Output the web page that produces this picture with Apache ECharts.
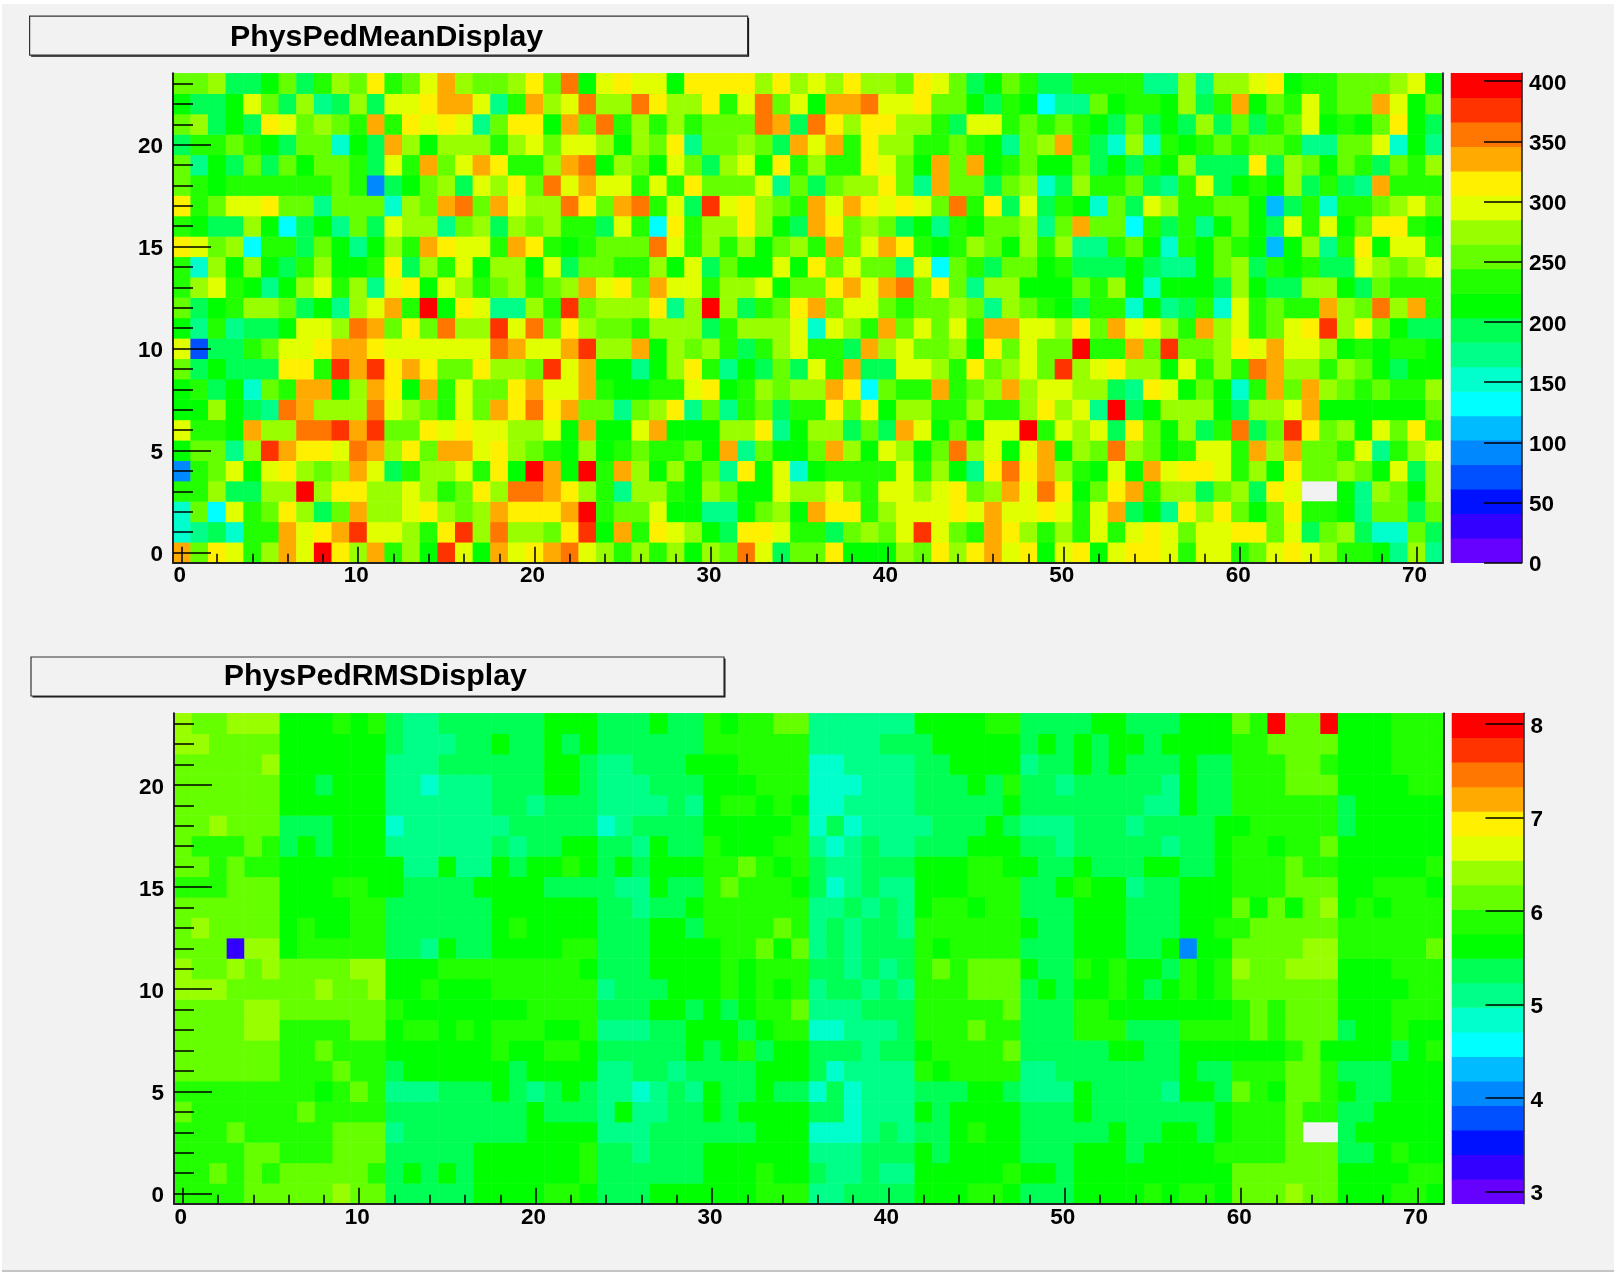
<!DOCTYPE html>
<html>
<head>
<meta charset="utf-8">
<style>
html,body{margin:0;padding:0;background:#fff;width:1617px;height:1272px;overflow:hidden}
#panel{position:absolute;left:2px;top:4px;width:1612px;height:1266px;background:#f2f2f2;border-bottom:2px solid #c4c4c4}
#chart{position:absolute;left:0;top:0;width:1617px;height:1272px}
</style>
<script src="https://cdn.jsdelivr.net/npm/echarts@6/dist/echarts.min.js"></script>
</head>
<body>
<div id="panel"></div>
<div id="chart"></div>
<script>
const titles = ['PhysPedMeanDisplay', 'PhysPedRMSDisplay'];
const xCategories = Array.from({length: 72}, (_, i) => String(i));
const yCategories = Array.from({length: 24}, (_, i) => String(i));
const palette = ['#6600ff','#3300ff','#0011ff','#0050ff','#0088ff','#00bbff','#00ffff','#00ffcc','#00ff88','#00ff55','#00ff00','#22ff00','#66ff00','#99ff00','#e2ff00','#fff000','#ffaa00','#ff7700','#ff3300','#ff0000'];
const meanBandValues = [10,30,51,71,92,112,132,152,173,193,213,234,254,274,295,315,335,356,376,396];
const rmsBandValues = [3.0,3.26,3.52,3.79,4.05,4.31,4.57,4.83,5.09,5.36,5.62,5.88,6.14,6.4,6.67,6.93,7.19,7.46,7.72,7.98];
const meanTicks = [0,50,100,150,200,250,300,350,400];
const rmsTicks = [3,4,5,6,7,8];

const mean23 = [254,254,274,193,193,213,254,193,234,274,254,315,234,254,295,335,274,254,254,274,315,254,356,213,295,315,295,295,213,315,315,315,315,274,315,274,295,274,315,274,274,254,315,295,254,193,213,254,234,193,193,234,234,234,234,173,173,274,173,274,274,295,315,213,234,234,254,254,254,274,295,213];
const mean22 = [213,193,193,213,295,254,193,274,173,193,274,193,295,295,315,335,335,295,173,234,335,274,295,356,274,274,356,315,274,274,315,234,295,356,254,295,213,335,335,356,295,295,315,254,254,213,193,234,213,132,173,173,254,213,234,234,213,274,193,234,335,213,254,234,295,234,254,254,335,295,213,254];
const mean21 = [254,274,193,213,193,315,295,254,274,254,234,335,234,315,295,315,295,173,254,315,315,213,335,254,356,234,274,234,274,234,254,254,254,356,335,193,356,315,274,315,315,274,274,234,193,295,295,234,254,234,254,234,213,193,254,193,213,193,274,193,254,193,234,254,295,213,234,213,254,315,213,193];
const mean20 = [193,234,234,254,234,213,193,254,254,152,213,193,335,274,213,274,274,274,234,274,295,254,295,295,274,213,274,254,315,173,254,254,274,254,193,335,295,335,234,315,274,274,234,234,254,234,213,173,254,274,335,234,193,152,274,152,234,213,234,254,234,254,254,234,173,173,254,254,295,152,213,173];
const mean19 = [254,173,213,193,254,193,254,213,254,254,234,193,295,234,335,254,295,335,315,234,234,274,335,356,213,274,254,213,295,254,193,274,295,213,315,234,274,234,234,315,295,254,213,335,254,335,213,234,254,213,213,254,193,213,193,234,213,274,193,193,193,315,193,274,254,213,254,234,193,254,234,274];
const mean18 = [254,234,213,234,234,234,234,234,234,254,234,92,193,213,254,274,193,295,274,315,254,356,295,335,295,295,234,295,234,315,254,254,254,295,173,254,193,254,274,274,315,254,173,335,254,254,193,254,274,152,193,274,234,234,254,193,173,234,295,193,213,234,213,274,193,234,193,173,335,234,234,234];
const mean17 = [315,234,254,295,295,315,254,254,173,254,254,254,152,274,254,335,356,254,335,295,274,274,356,315,254,335,356,234,295,193,376,295,315,274,254,234,335,295,335,315,295,315,295,254,356,234,315,193,295,193,234,213,152,254,193,295,274,234,234,254,254,213,112,193,234,152,234,234,254,274,295,254];
const mean16 = [234,213,193,193,274,213,132,193,213,173,254,193,295,274,274,173,254,274,193,274,254,274,234,234,193,295,234,132,315,234,274,274,315,274,213,193,335,315,254,274,254,193,213,173,234,213,254,254,274,173,254,335,254,254,132,234,193,234,173,213,254,213,193,295,234,295,213,254,315,315,234,213];
const mean15 = [315,295,254,274,132,234,234,193,254,213,173,213,274,234,335,315,295,295,234,335,315,234,213,234,254,254,254,356,295,234,274,234,274,213,254,274,234,335,254,295,335,315,234,213,234,274,254,213,274,234,274,173,173,234,254,213,152,234,213,254,234,213,112,213,274,173,234,315,213,295,295,234];
const mean14 = [234,152,274,213,274,213,193,234,274,213,213,234,315,193,274,234,295,213,274,274,213,295,193,254,254,234,234,274,213,295,193,254,213,213,295,213,315,254,295,254,254,173,295,132,254,234,193,254,254,213,234,193,193,193,213,193,173,173,213,254,274,193,234,213,234,193,193,295,274,254,274,295];
const mean13 = [234,274,295,234,213,173,213,274,295,234,274,173,295,315,213,295,274,234,254,274,234,254,274,335,295,315,254,335,295,295,234,274,274,295,213,254,254,315,335,295,335,356,254,315,254,173,274,274,213,213,213,254,234,274,213,152,213,213,213,193,274,213,193,193,274,274,213,193,254,234,234,234];
const mean12 = [254,193,213,234,274,274,254,193,213,173,274,295,335,234,396,213,315,295,173,173,274,234,376,254,274,274,274,315,173,274,396,274,193,234,254,315,335,254,295,295,254,234,254,254,274,254,173,274,254,234,213,193,234,234,152,213,173,193,234,152,295,234,254,234,234,335,274,254,356,274,335,234];
const mean11 = [213,173,234,173,193,193,213,295,295,274,356,335,254,315,254,356,274,274,376,295,356,254,315,274,254,254,234,274,274,274,193,234,274,274,274,295,152,295,274,234,335,254,295,254,295,234,335,335,295,295,274,315,254,335,295,315,274,234,335,274,295,234,254,295,315,376,274,315,254,213,193,193];
const mean10 = [295,71,193,193,234,254,295,295,315,335,335,315,295,295,295,295,295,295,356,335,295,295,335,376,274,274,335,213,274,254,274,234,193,234,274,295,234,234,193,335,274,295,254,254,274,213,315,254,295,254,254,396,234,234,335,254,376,254,254,274,315,295,335,295,295,274,213,234,213,234,234,213];
const mean9 = [254,193,213,193,193,193,315,315,234,376,335,376,315,335,315,254,254,315,274,274,254,376,295,335,213,213,173,213,274,315,234,173,213,193,254,193,295,234,335,193,193,295,295,274,234,315,254,274,295,254,376,274,295,315,274,274,213,295,234,274,234,356,335,274,274,234,274,254,213,193,213,213];
const mean8 = [213,234,193,213,152,254,234,335,335,213,274,335,315,213,335,234,295,254,254,315,335,295,295,335,234,213,213,234,234,295,315,213,234,274,254,274,274,335,315,132,254,234,234,335,234,254,274,335,274,295,295,274,274,193,173,315,295,213,254,213,152,234,335,254,335,274,254,234,254,234,234,274];
const mean7 = [213,213,274,213,193,173,356,335,274,274,274,356,295,274,254,234,295,254,335,315,356,315,335,254,254,173,254,274,315,173,254,173,234,254,193,234,234,315,254,315,213,274,274,234,234,274,234,234,274,315,274,295,173,396,193,213,274,274,274,213,193,274,274,295,335,213,213,213,213,213,213,254];
const mean6 = [295,234,234,213,335,274,274,356,356,376,335,376,254,254,315,295,315,295,295,274,274,295,213,335,213,213,295,335,213,213,213,274,274,315,173,213,274,274,193,254,193,335,295,213,254,213,295,295,396,234,295,274,295,193,315,254,213,274,193,234,356,193,254,376,315,254,274,213,295,254,315,234];
const mean5 = [213,254,254,173,274,376,335,315,315,295,356,335,274,315,254,335,335,295,315,274,254,234,213,274,213,234,254,234,234,254,213,335,173,254,213,213,254,335,274,213,295,274,213,254,356,274,295,213,295,335,213,274,254,356,274,254,213,234,295,295,234,335,274,335,254,254,234,295,173,234,274,295];
const mean4 = [92,234,254,295,213,295,315,274,254,274,335,295,193,234,274,274,295,234,315,213,396,335,213,396,234,335,274,213,274,213,254,173,315,213,295,152,213,234,234,234,234,295,234,274,213,173,315,356,315,335,274,234,213,295,213,335,295,315,315,295,234,274,213,315,254,254,274,254,213,295,193,274];
const mean3 = [234,234,274,193,193,274,274,396,274,315,315,274,274,295,274,234,254,315,274,356,356,335,315,274,234,173,274,274,234,213,274,254,213,213,295,274,274,295,254,234,295,295,274,295,315,254,274,335,295,356,315,213,254,315,335,234,274,274,193,254,274,193,315,295,null,null,213,173,274,254,213,274];
const mean2 = [152,254,132,295,234,254,315,274,193,254,335,274,274,295,315,274,254,274,335,315,315,315,335,396,234,254,254,295,213,213,173,173,213,254,274,213,335,315,315,234,274,295,295,295,315,295,335,295,295,315,295,234,295,335,193,213,173,315,274,315,254,213,254,315,234,234,213,173,254,254,193,254];
const mean1 = [152,173,193,152,234,234,335,295,315,335,376,295,295,274,234,315,376,274,356,274,274,254,315,376,213,335,234,315,295,274,213,193,315,315,295,234,234,193,254,274,254,295,376,295,254,234,335,315,274,234,274,234,295,234,295,315,295,254,295,295,315,315,254,295,193,254,274,193,152,152,254,193];
const mean0 = [335,254,315,295,234,274,335,295,396,315,274,335,234,274,213,376,295,213,335,295,315,335,356,295,274,234,274,234,274,213,274,254,356,295,193,254,254,315,213,213,213,274,254,315,274,315,335,295,315,213,295,315,213,295,315,315,295,234,295,295,234,254,295,315,295,274,234,234,213,173,274,173];

const rms23 = [6.4,6.14,6.14,6.4,6.4,6.4,5.62,5.62,5.62,5.88,5.62,5.88,5.36,5.09,5.09,5.36,5.36,5.36,5.36,5.36,5.36,5.62,5.62,5.62,5.36,5.36,5.36,5.62,5.36,5.36,5.88,5.62,5.88,5.88,6.14,6.14,5.09,5.09,5.09,5.09,5.09,5.09,5.62,5.62,5.62,5.62,5.88,5.88,5.36,5.36,5.36,5.36,5.62,5.62,5.36,5.36,5.36,5.62,5.62,5.62,6.14,5.88,7.98,6.14,6.14,7.98,5.62,5.62,5.62,5.88,5.88,5.88];
const rms22 = [6.4,6.4,6.14,6.14,6.14,6.14,5.62,5.62,5.62,5.62,5.62,5.62,5.36,5.09,5.09,5.09,5.36,5.36,5.62,5.36,5.36,5.62,5.36,5.62,5.36,5.36,5.36,5.36,5.36,5.36,5.88,5.88,5.88,5.88,5.88,5.88,5.09,5.09,5.09,5.09,5.36,5.36,5.36,5.62,5.62,5.62,5.62,5.62,5.36,5.62,5.36,5.62,5.36,5.62,5.62,5.36,5.62,5.62,5.62,5.62,5.88,5.88,6.14,6.14,6.14,6.14,5.62,5.62,5.62,5.88,5.88,5.88];
const rms21 = [6.14,6.14,6.14,6.14,6.14,6.4,5.62,5.62,5.62,5.62,5.62,5.62,5.09,5.09,5.09,5.36,5.36,5.36,5.36,5.36,5.36,5.62,5.62,5.36,5.09,5.09,5.36,5.36,5.36,5.62,5.62,5.62,5.88,5.88,5.88,5.88,4.83,4.83,5.09,5.09,5.09,5.09,5.36,5.36,5.62,5.62,5.62,5.62,5.09,5.36,5.36,5.62,5.36,5.62,5.36,5.36,5.36,5.62,5.36,5.36,5.88,5.88,5.88,6.14,6.14,5.88,5.62,5.62,5.62,5.88,5.88,5.88];
const rms20 = [6.14,6.14,6.14,6.14,6.14,6.14,5.62,5.62,5.36,5.62,5.62,5.62,5.09,5.09,4.83,5.09,5.09,5.09,5.36,5.36,5.36,5.62,5.62,5.36,5.09,5.09,5.09,5.36,5.36,5.36,5.62,5.62,5.62,5.88,5.88,5.88,4.83,4.83,4.83,5.09,5.09,5.09,5.36,5.36,5.36,5.62,5.36,5.88,5.36,5.36,5.09,5.36,5.36,5.36,5.36,5.36,5.09,5.62,5.36,5.36,5.88,5.88,5.88,6.14,6.14,6.14,5.62,5.62,5.62,5.62,5.88,5.88];
const rms19 = [6.14,6.14,6.14,6.14,6.14,6.14,5.62,5.62,5.62,5.62,5.62,5.62,5.09,5.09,5.09,5.09,5.09,5.09,5.36,5.36,5.09,5.36,5.36,5.36,5.09,5.09,5.09,5.09,5.36,5.09,5.62,5.88,5.88,5.62,5.88,5.62,4.83,4.83,5.09,5.09,5.09,5.09,5.36,5.36,5.36,5.36,5.36,5.62,5.36,5.36,5.36,5.36,5.36,5.36,5.36,5.09,5.09,5.62,5.36,5.36,5.88,5.88,5.88,5.88,5.88,5.88,5.36,5.62,5.62,5.62,5.62,5.62];
const rms18 = [6.14,6.14,6.4,6.14,6.14,6.14,5.36,5.36,5.36,5.62,5.62,5.62,4.83,5.09,5.09,5.09,5.09,5.09,5.09,5.36,5.36,5.36,5.36,5.36,4.83,5.09,5.36,5.36,5.36,5.36,5.62,5.62,5.62,5.62,5.62,5.88,4.83,5.36,4.83,5.09,5.09,5.09,5.09,5.36,5.36,5.36,5.62,5.36,5.09,5.09,5.09,5.36,5.36,5.36,5.09,5.36,5.36,5.36,5.36,5.62,5.62,5.88,5.88,5.88,5.88,5.88,5.36,5.62,5.62,5.62,5.62,5.62];
const rms17 = [6.14,5.88,5.88,5.88,6.14,5.88,5.36,5.62,5.36,5.62,5.62,5.62,5.09,5.09,5.09,5.09,5.09,5.09,5.36,5.09,5.36,5.36,5.62,5.62,5.36,5.36,5.09,5.62,5.36,5.36,5.88,5.62,5.62,5.62,5.88,5.88,5.09,4.83,5.09,5.36,5.09,5.09,5.36,5.36,5.36,5.62,5.62,5.62,5.36,5.36,5.09,5.36,5.36,5.36,5.36,5.36,5.09,5.36,5.36,5.62,5.88,5.88,5.62,5.88,5.88,6.14,5.62,5.62,5.62,5.62,5.62,5.62];
const rms16 = [6.14,6.14,5.88,6.14,5.88,5.88,5.62,5.62,5.62,5.62,5.62,5.62,5.62,5.09,5.09,5.62,5.09,5.09,5.62,5.36,5.62,5.62,5.88,5.62,5.36,5.62,5.36,5.62,5.62,5.62,5.88,5.88,6.14,5.88,5.62,5.88,5.36,5.09,5.09,5.36,5.36,5.36,5.62,5.62,5.62,5.88,5.88,5.62,5.62,5.36,5.36,5.62,5.36,5.36,5.36,5.62,5.62,5.36,5.36,5.62,5.88,5.88,5.88,6.14,5.88,5.88,5.62,5.62,5.62,5.62,5.62,5.88];
const rms15 = [5.88,5.88,5.88,6.14,6.14,6.14,5.62,5.62,5.62,5.88,5.88,5.62,5.62,5.36,5.36,5.36,5.36,5.62,5.62,5.62,5.62,5.36,5.36,5.36,5.36,5.09,5.09,5.62,5.36,5.36,5.88,6.14,5.88,5.88,5.88,5.62,5.36,4.83,5.09,5.36,5.09,5.09,5.62,5.62,5.62,5.88,5.88,5.88,5.36,5.36,5.62,5.88,5.62,5.62,5.09,5.36,5.36,5.62,5.62,5.62,5.88,5.88,5.88,6.14,6.14,6.14,5.62,5.62,5.88,5.88,5.88,5.62];
const rms14 = [6.14,6.14,6.14,6.14,6.14,6.14,5.62,5.62,5.62,5.62,5.88,5.88,5.36,5.36,5.36,5.36,5.36,5.36,5.62,5.62,5.62,5.62,5.62,5.62,5.36,5.36,5.09,5.36,5.36,5.62,5.88,5.88,5.88,5.88,5.88,5.88,5.09,5.09,5.36,5.09,5.36,5.09,5.62,5.88,5.88,5.62,5.88,5.88,5.36,5.36,5.36,5.62,5.62,5.62,5.36,5.36,5.36,5.62,5.62,5.62,6.14,5.62,6.14,5.62,6.14,6.4,5.62,5.88,5.62,5.88,5.88,5.88];
const rms13 = [6.14,6.4,6.14,6.14,6.14,6.14,5.62,5.88,5.62,5.62,5.88,5.88,5.36,5.36,5.36,5.36,5.36,5.36,5.62,5.88,5.62,5.62,5.62,5.62,5.36,5.36,5.36,5.62,5.62,5.36,5.88,5.88,5.88,5.88,6.14,5.88,5.09,5.36,5.09,5.36,5.36,5.09,5.88,5.88,5.88,5.88,5.88,5.88,5.62,5.36,5.36,5.62,5.62,5.62,5.36,5.36,5.36,5.62,5.62,5.88,5.88,6.14,6.14,6.14,6.14,6.14,5.88,5.88,5.88,5.88,5.88,5.88];
const rms12 = [6.14,6.14,6.14,3.26,6.4,6.4,5.62,5.88,5.88,5.88,5.88,5.88,5.36,5.36,5.09,5.62,5.36,5.36,5.62,5.62,5.62,5.62,5.88,5.88,5.36,5.36,5.36,5.62,5.62,5.62,5.62,5.88,5.88,6.14,5.62,6.14,5.09,5.36,5.09,5.36,5.36,5.36,5.88,5.62,5.88,5.88,5.88,5.88,5.36,5.36,5.36,5.62,5.62,5.62,5.36,5.36,5.62,4.05,5.62,5.62,6.14,6.14,6.14,6.14,6.4,6.4,5.88,5.88,5.88,5.88,5.88,6.14];
const rms11 = [6.4,6.14,6.14,6.4,6.14,6.4,6.14,6.14,6.14,6.14,6.4,6.4,5.62,5.62,5.62,5.88,5.88,5.88,5.88,5.88,5.88,5.88,5.88,5.62,5.36,5.36,5.36,5.62,5.62,5.62,5.62,5.88,5.62,5.88,5.88,5.88,5.36,5.36,5.09,5.36,5.09,5.36,5.88,6.14,5.88,6.14,6.14,6.14,5.62,5.36,5.36,5.88,5.62,5.88,5.62,5.62,5.36,5.88,5.62,5.88,6.4,6.14,6.14,6.4,6.4,6.4,5.62,5.62,5.62,5.88,5.88,5.88];
const rms10 = [6.4,6.4,6.4,6.14,6.14,6.14,6.14,6.14,6.4,6.14,6.14,6.4,5.62,5.62,5.88,5.62,5.62,5.62,5.88,5.88,5.88,5.88,5.88,5.88,5.09,5.36,5.36,5.36,5.62,5.62,5.62,5.88,5.62,5.88,5.62,5.88,5.09,5.36,5.36,5.09,5.36,5.09,5.88,5.88,5.88,6.14,6.14,6.14,5.36,5.62,5.36,5.62,5.62,5.88,5.62,5.36,5.62,5.88,5.62,5.88,6.14,6.14,6.14,6.14,6.14,6.14,5.62,5.62,5.62,5.62,5.88,5.88];
const rms9 = [6.14,6.14,6.14,6.14,6.4,6.4,6.14,6.14,6.14,6.14,6.14,6.14,5.88,5.62,5.62,5.62,5.62,5.62,5.62,5.62,5.88,5.88,5.88,5.88,5.36,5.36,5.36,5.62,5.62,5.36,5.62,5.36,5.62,5.88,5.88,6.14,5.09,5.09,5.09,5.36,5.36,5.36,5.88,5.88,5.88,5.88,5.88,6.14,5.36,5.36,5.36,5.88,5.88,5.62,5.62,5.62,5.62,5.62,5.62,5.62,5.88,6.14,5.88,6.14,6.14,6.14,5.62,5.62,5.62,5.88,5.88,5.88];
const rms8 = [6.14,6.14,6.14,6.14,6.4,6.4,5.88,5.88,5.88,5.88,6.14,6.14,5.62,5.88,5.88,5.62,5.88,5.62,5.88,5.88,5.88,5.62,5.62,5.88,5.09,5.09,5.09,5.36,5.36,5.62,5.62,5.62,5.36,5.62,5.88,5.88,4.83,4.83,5.09,5.09,5.09,5.36,5.88,5.88,5.88,6.14,5.88,5.88,5.36,5.36,5.36,5.88,5.88,5.88,5.36,5.36,5.36,5.88,5.88,5.88,5.88,6.14,5.88,6.14,6.14,6.14,5.36,5.62,5.62,5.88,5.62,5.62];
const rms7 = [6.14,6.14,6.14,6.14,6.14,6.14,5.88,5.88,6.14,5.88,5.88,5.88,5.62,5.62,5.62,5.62,5.62,5.62,5.88,5.62,5.62,5.88,5.88,5.62,5.36,5.36,5.36,5.36,5.36,5.62,5.36,5.62,5.88,5.36,5.62,5.62,5.36,5.36,5.36,5.09,5.36,5.36,5.62,5.88,5.88,5.88,5.88,6.14,5.36,5.36,5.36,5.36,5.36,5.62,5.62,5.36,5.36,5.62,5.62,5.62,5.62,5.62,5.62,5.88,6.14,5.62,5.62,5.62,5.62,5.36,5.62,5.88];
const rms6 = [6.14,6.14,6.14,6.14,6.14,6.14,5.88,5.88,5.88,6.14,5.88,5.88,5.36,5.62,5.62,5.62,5.62,5.62,5.62,5.36,5.62,5.62,5.62,5.62,5.09,5.09,5.36,5.36,5.09,5.36,5.36,5.36,5.36,5.62,5.62,5.62,5.36,4.83,5.09,5.09,5.09,5.09,5.88,5.62,5.88,5.88,5.88,5.88,5.09,5.09,5.36,5.36,5.36,5.36,5.36,5.36,5.36,5.62,5.36,5.36,5.88,5.88,5.88,6.14,6.14,5.88,5.36,5.36,5.36,5.62,5.62,5.62];
const rms5 = [5.88,5.88,5.88,5.88,5.88,5.88,5.88,5.88,5.62,5.88,6.14,5.88,5.09,5.09,5.09,5.36,5.36,5.36,5.62,5.36,5.09,5.36,5.62,5.36,5.09,5.09,4.83,5.09,5.36,5.09,5.62,5.36,5.36,5.62,5.36,5.36,4.83,5.36,4.83,5.09,5.09,5.09,5.36,5.36,5.36,5.62,5.62,5.36,5.09,5.09,5.09,5.62,5.36,5.36,5.36,5.36,5.09,5.62,5.62,5.36,6.14,5.88,5.62,6.14,6.14,5.88,5.62,5.36,5.36,5.62,5.62,5.62];
const rms4 = [6.14,5.88,5.88,5.88,5.88,5.88,5.88,6.14,5.88,5.88,5.88,5.88,5.36,5.36,5.36,5.36,5.36,5.36,5.36,5.36,5.62,5.36,5.36,5.36,5.09,5.62,5.09,5.09,5.36,5.36,5.62,5.36,5.62,5.62,5.62,5.62,5.36,5.36,4.83,5.09,5.09,5.09,5.62,5.36,5.62,5.62,5.62,5.62,5.36,5.36,5.36,5.62,5.36,5.36,5.36,5.36,5.36,5.36,5.36,5.62,5.88,5.88,5.88,6.14,5.88,5.88,5.36,5.36,5.62,5.62,5.62,5.62];
const rms3 = [5.88,5.88,5.88,6.14,5.88,5.88,5.88,5.88,5.88,6.14,6.14,6.14,5.09,5.36,5.36,5.36,5.36,5.36,5.36,5.36,5.62,5.62,5.62,5.62,5.09,5.09,5.09,5.36,5.36,5.36,5.36,5.36,5.36,5.62,5.62,5.62,4.83,4.83,4.83,5.09,5.36,5.09,5.36,5.36,5.62,5.88,5.62,5.62,5.36,5.36,5.36,5.36,5.36,5.62,5.36,5.36,5.62,5.62,5.36,5.62,5.88,5.88,5.88,6.14,null,null,5.36,5.62,5.62,5.62,5.62,5.62];
const rms2 = [5.88,5.88,5.88,5.88,6.14,6.14,5.88,5.88,5.88,6.14,6.14,6.14,5.36,5.36,5.36,5.36,5.36,5.62,5.62,5.62,5.62,5.62,5.62,5.88,5.36,5.36,5.09,5.36,5.36,5.36,5.62,5.62,5.62,5.62,5.62,5.62,5.09,5.09,5.09,5.36,5.36,5.36,5.62,5.36,5.62,5.62,5.62,5.62,5.36,5.36,5.36,5.62,5.62,5.62,5.36,5.62,5.62,5.62,5.62,5.88,5.88,5.88,5.88,6.14,6.14,6.14,5.36,5.36,5.62,5.88,5.62,5.62];
const rms1 = [5.88,5.88,6.14,5.88,6.14,5.88,6.14,6.14,6.14,6.14,6.14,5.88,5.36,5.62,5.36,5.62,5.36,5.62,5.62,5.62,5.62,5.62,5.62,5.88,5.36,5.36,5.36,5.36,5.36,5.36,5.62,5.62,5.62,5.88,5.62,5.62,5.36,5.09,5.09,5.36,5.09,5.09,5.62,5.62,5.62,5.62,5.62,5.88,5.62,5.62,5.36,5.62,5.62,5.62,5.62,5.62,5.62,5.62,5.62,5.62,6.14,6.14,6.14,6.14,6.14,6.14,5.62,5.62,5.62,5.62,5.88,5.88];
const rms0 = [5.88,5.88,5.88,5.88,6.14,6.14,6.14,6.14,6.14,6.4,6.14,6.14,5.36,5.36,5.36,5.36,5.36,5.62,5.62,5.62,5.62,5.88,5.88,5.62,5.36,5.36,5.36,5.62,5.62,5.62,5.62,5.62,5.62,5.88,5.88,5.88,5.09,5.09,5.36,5.36,5.36,5.36,5.62,5.62,5.62,5.88,5.88,5.62,5.36,5.36,5.36,5.62,5.62,5.62,5.62,5.88,5.62,5.88,5.88,5.62,6.14,6.14,6.14,6.4,6.14,6.14,5.62,5.62,5.62,5.88,5.88,5.62];

const meanRows = [mean0,mean1,mean2,mean3,mean4,mean5,mean6,mean7,mean8,mean9,mean10,mean11,mean12,mean13,mean14,mean15,mean16,mean17,mean18,mean19,mean20,mean21,mean22,mean23];
const rmsRows = [rms0,rms1,rms2,rms3,rms4,rms5,rms6,rms7,rms8,rms9,rms10,rms11,rms12,rms13,rms14,rms15,rms16,rms17,rms18,rms19,rms20,rms21,rms22,rms23];

const FONT = '"Liberation Sans", Arial, sans-serif';
const INK = '#000';
const LABEL_SIZE = 22.5;
const shifted = {t: {color: INK, fontFamily: FONT, fontWeight: 'bold', fontSize: LABEL_SIZE, padding: [5, 0, 0, 0]}};

function cells(rows) {
  const out = [];
  rows.forEach((row, y) => row.forEach((v, x) => { if (v !== null) out.push([x, y, v]); }));
  return out;
}
function pieces(lo, step) {
  return palette.map((color, i) => ({min: lo + i * step, max: lo + (i + 1) * step, color}));
}
function xMain(grid) {
  return {type: 'category', gridIndex: grid, data: xCategories, position: 'bottom', z: 10,
    axisLine: {show: true, lineStyle: {color: '#222', width: 2}},
    axisTick: {show: true, inside: true, alignWithLabel: true, length: 9, interval: i => i % 2 === 0, lineStyle: {color: INK, width: 1.5}},
    axisLabel: {show: true, interval: i => i % 10 === 0, margin: 2, color: INK, fontFamily: FONT, fontWeight: 'bold', fontSize: LABEL_SIZE, padding: [0, 4, 0, 0]},
    splitLine: {show: false}};
}
function xMajor(grid) {
  return {type: 'category', gridIndex: grid, data: xCategories, position: 'bottom', z: 10,
    axisLine: {show: false},
    axisTick: {show: true, inside: true, alignWithLabel: true, length: 16, interval: i => i % 10 === 0, lineStyle: {color: INK, width: 1.5}},
    axisLabel: {show: false}, splitLine: {show: false}};
}
function yMain(grid) {
  return {type: 'category', gridIndex: grid, data: yCategories, position: 'left', z: 10,
    axisLine: {show: true, lineStyle: {color: '#222', width: 2}},
    axisTick: {show: true, inside: true, alignWithLabel: true, length: 20, interval: 0, lineStyle: {color: INK, width: 1.5}},
    axisLabel: {show: true, interval: i => i % 5 === 0, margin: 10, formatter: '{t|{value}}', rich: shifted},
    splitLine: {show: false}};
}
function yMajor(grid) {
  return {type: 'category', gridIndex: grid, data: yCategories, position: 'left', z: 10,
    axisLine: {show: false},
    axisTick: {show: true, inside: true, alignWithLabel: true, length: 38, interval: i => i % 5 === 0, lineStyle: {color: INK, width: 1.5}},
    axisLabel: {show: false}, splitLine: {show: false}};
}
function yRight(grid) {
  return {type: 'category', gridIndex: grid, data: yCategories, position: 'right', z: 10,
    axisLine: {show: true, lineStyle: {color: '#333', width: 2}},
    axisTick: {show: false}, axisLabel: {show: false}, splitLine: {show: false}};
}
function xBar(grid) {
  return {type: 'category', gridIndex: grid, data: ['scale'], position: 'bottom', z: 10,
    axisLine: {show: false}, axisTick: {show: false}, axisLabel: {show: false}, splitLine: {show: false}};
}
function yBarBands(grid, bands) {
  return {type: 'category', gridIndex: grid, data: bands.map(String), position: 'left', z: 10,
    axisLine: {show: false}, axisTick: {show: false}, axisLabel: {show: false}, splitLine: {show: false}};
}
function yBarScale(grid, lo, hi, ticks) {
  return {type: 'value', gridIndex: grid, min: lo, max: hi, position: 'right', z: 10,
    axisLine: {show: true, onZero: false, lineStyle: {color: '#222', width: 1.5}},
    axisTick: {show: true, inside: true, length: 38, customValues: ticks, lineStyle: {color: INK, width: 1.5}},
    axisLabel: {show: true, customValues: ticks, margin: 7, formatter: '{t|{value}}', rich: shifted},
    splitLine: {show: false}};
}
function heat(x, y, data) {
  return {type: 'heatmap', xAxisIndex: x, yAxisIndex: y, data, progressive: 0, silent: true, itemStyle: {borderWidth: 0}, emphasis: {disabled: true}};
}
function titleBox(x, y, w, h, text, cx, dy) {
  return [
    {type: 'rect', shape: {x: x + 1.5, y: y + 1.5, width: w, height: h}, style: {fill: '#111'}, z: 100},
    {type: 'rect', shape: {x, y, width: w, height: h}, style: {fill: '#f2f2f2', stroke: '#333', lineWidth: 1.2}, z: 101},
    {type: 'text', x: cx, y: y + h / 2 + dy, style: {text, fill: '#000', font: 'bold 30.3px ' + FONT, align: 'center', verticalAlign: 'middle'}, z: 102}
  ];
}

const option = {
  animation: false,
  backgroundColor: 'transparent',
  grid: [
    {left: 173, top: 73.3, width: 1270, height: 489.4},
    {left: 1451, top: 73.3, width: 71, height: 489.4},
    {left: 174, top: 713.3, width: 1270, height: 490.5},
    {left: 1452, top: 713.3, width: 71.5, height: 490.5}
  ],
  xAxis: [xMain(0), xMajor(0), xBar(1), xMain(2), xMajor(2), xBar(3)],
  yAxis: [
    yMain(0), yMajor(0), yRight(0), yBarBands(1, meanBandValues), yBarScale(1, 0, 406.5, meanTicks),
    yMain(2), yMajor(2), yRight(2), yBarBands(3, rmsBandValues), yBarScale(3, 2.866, 8.116, rmsTicks)
  ],
  visualMap: [
    {type: 'piecewise', show: false, seriesIndex: [0, 1], dimension: 2, pieces: pieces(0, 20.325)},
    {type: 'piecewise', show: false, seriesIndex: [2, 3], dimension: 2, pieces: pieces(2.866, 0.2625)}
  ],
  series: [
    heat(0, 0, cells(meanRows)),
    heat(2, 3, meanBandValues.map((v, i) => [0, i, v])),
    heat(3, 5, cells(rmsRows)),
    heat(5, 8, rmsBandValues.map((v, i) => [0, i, v]))
  ],
  graphic: [
    ...titleBox(29.6, 16.2, 718, 39, titles[0], 386.6, 1.5),
    ...titleBox(31, 657, 693, 39, titles[1], 375.3, 0)
  ]
};
echarts.init(document.getElementById('chart'), null, {renderer: 'canvas'}).setOption(option);
</script>
</body>
</html>
